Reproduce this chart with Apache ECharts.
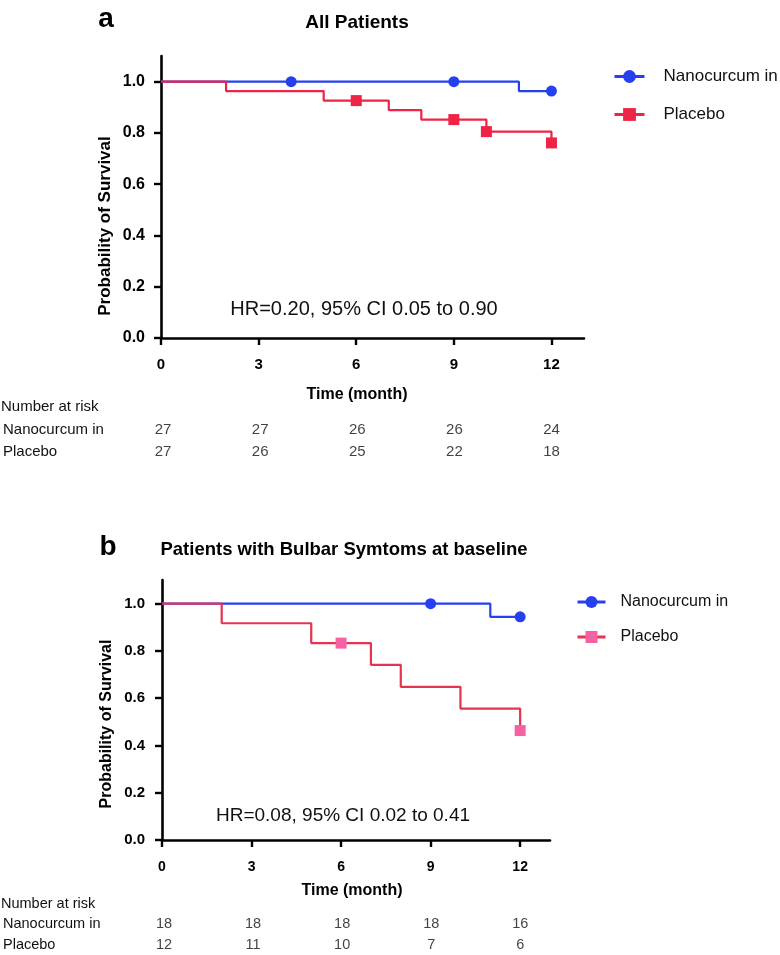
<!DOCTYPE html>
<html>
<head>
<meta charset="utf-8">
<script src="https://cdn.jsdelivr.net/npm/echarts@6/dist/echarts.min.js"></script>
<style>
html,body{margin:0;padding:0;background:#fff;}
#chart{width:780px;height:955px;}
</style>
</head>
<body>
<div id="chart"></div>
<script>
// ---- data ----
const monthTicks = [0, 3, 6, 9, 12];
const survTicks = [0, 0.2, 0.4, 0.6, 0.8, 1.0];
const groups = ['Nanocurcum in', 'Placebo'];

// Panel a: All Patients
const aNanoEventT = [0, 11];
const aNanoEventS = [1.0, 0.963];
const aNanoCensT = [4, 9, 12];
const aNanoCensS = [1.0, 1.0, 0.963];
const aPlacEventT = [0, 2, 5, 7, 8, 10, 12];
const aPlacEventS = [1.0, 0.963, 0.926, 0.889, 0.852, 0.805, 0.761];
const aPlacCensT = [6, 9, 10, 12];
const aPlacCensS = [0.926, 0.852, 0.805, 0.761];
const aRiskNano = [27, 27, 26, 26, 24];
const aRiskPlac = [27, 26, 25, 22, 18];

// Panel b: Bulbar symptoms
const bNanoEventT = [0, 11];
const bNanoEventS = [1.0, 0.944];
const bNanoCensT = [9, 12];
const bNanoCensS = [1.0, 0.944];
const bPlacEventT = [0, 2, 5, 7, 8, 10, 12];
const bPlacEventS = [1.0, 0.917, 0.833, 0.741, 0.648, 0.556, 0.463];
const bPlacCensT = [6, 12];
const bPlacCensS = [0.833, 0.463];
const bRiskNano = [18, 18, 18, 18, 16];
const bRiskPlac = [12, 11, 10, 7, 6];

// ---- helpers ----
const FONT = '"Liberation Sans", Arial, Helvetica, sans-serif';
const BLUE = '#2440ef';
const RED = '#ee2346';
const RED_B = '#e53352';
const PINK = '#f462a2';

function kmData(et, es, ct, cs) {
  const pts = [];
  et.forEach((t, i) => pts.push({t: t, s: es[i], c: 0}));
  ct.forEach((t, i) => pts.push({t: t, s: cs[i], c: 1}));
  pts.sort((a, b) => (a.t - b.t) || (a.c - b.c));
  return pts.map(p => p.c ? {value: [p.t, p.s]} : {value: [p.t, p.s], symbol: 'none'});
}
function riskData(a, b) {
  const d = [];
  monthTicks.forEach((t, i) => d.push([t, groups[0], a[i]]));
  monthTicks.forEach((t, i) => d.push([t, groups[1], b[i]]));
  return d;
}

const panels = [
  {grid: {left: 161, top: 56, width: 423, height: 282}, tick: 15, ymargin: 16, xmargin: 19},
  {grid: {left: 162, top: 580, width: 388, height: 260}, tick: 14, ymargin: 17, xmargin: 20}
];

const grids = [
  panels[0].grid, panels[1].grid,
  {left: 161, top: 419, width: 423, height: 44},
  {left: 162, top: 914, width: 388, height: 46}
];

const xAxes = [], yAxes = [];
panels.forEach((p, i) => {
  xAxes.push({
    gridIndex: i, type: 'value', min: 0, max: 13,
    axisLine: {show: true, lineStyle: {color: '#000', width: 2.6}},
    axisTick: {show: true, length: 7, lineStyle: {color: '#000', width: 2.4}, customValues: monthTicks},
    axisLabel: {customValues: monthTicks, margin: p.xmargin, color: '#000', fontWeight: 'bold', fontSize: p.tick, fontFamily: FONT},
    splitLine: {show: false}
  });
  yAxes.push({
    gridIndex: i, type: 'value', min: 0, max: 1.1,
    axisLine: {show: true, lineStyle: {color: '#000', width: 2.6}},
    axisTick: {show: true, length: 7, lineStyle: {color: '#000', width: 2.4}, customValues: survTicks},
    axisLabel: {customValues: survTicks, margin: p.ymargin, color: '#000', fontWeight: 'bold', fontSize: p.tick + 1, fontFamily: FONT,
      formatter: v => Number(v).toFixed(1)},
    splitLine: {show: false}
  });
});
[2, 3].forEach((gi, k) => {
  xAxes.push({gridIndex: gi, type: 'value', min: 0, max: 13, show: false});
  yAxes.push({
    gridIndex: gi, type: 'category', data: groups, inverse: true,
    axisLine: {show: false}, axisTick: {show: false}, splitLine: {show: false},
    axisLabel: {align: 'left', margin: grids[gi].left - 1, color: '#111', fontSize: k === 0 ? 15 : 14.5, fontFamily: FONT}
  });
});

function kmSeries(name, xi, data, color, symbol, symColor) {
  return {
    name: name, type: 'line', step: 'end', xAxisIndex: xi, yAxisIndex: xi,
    data: data, symbol: symbol, symbolSize: 11, showAllSymbol: true,
    lineStyle: {color: color, width: 2.2},
    itemStyle: {color: symColor || color},
    animation: false, silent: true
  };
}
function riskSeries(name, gi, data, fs) {
  return {
    name: name, type: 'scatter', xAxisIndex: gi, yAxisIndex: gi,
    data: data, symbolSize: 1, itemStyle: {color: 'rgba(0,0,0,0)'},
    label: {show: true, position: 'inside', formatter: p => String(p.value[2]), color: '#111', fontSize: fs, fontFamily: FONT},
    animation: false, silent: true
  };
}

const series = [
  kmSeries(groups[0], 0, kmData(aNanoEventT, aNanoEventS, aNanoCensT, aNanoCensS), BLUE, 'circle'),
  kmSeries(groups[1], 0, kmData(aPlacEventT, aPlacEventS, aPlacCensT, aPlacCensS), RED, 'rect'),
  kmSeries(groups[0], 1, kmData(bNanoEventT, bNanoEventS, bNanoCensT, bNanoCensS), BLUE, 'circle'),
  kmSeries(groups[1], 1, kmData(bPlacEventT, bPlacEventS, bPlacCensT, bPlacCensS), RED_B, 'rect', PINK),
  riskSeries('riskA', 2, riskData(aRiskNano, aRiskPlac), 15),
  riskSeries('riskB', 3, riskData(bRiskNano, bRiskPlac), 14.5)
];

function txt(text, x, y, size, bold, opts) {
  opts = opts || {};
  return {
    type: 'text', x: x, y: y, silent: true, rotation: opts.rotation || 0,
    style: {text: text, align: opts.align || 'center', verticalAlign: 'middle', fill: opts.fill || '#000',
      font: (bold ? 'bold ' : '') + size + 'px ' + FONT}
  };
}

const graphics = [
  txt('a', 106, 19, 28, true),
  txt('All Patients', 357, 23, 19, true),
  txt('Probability of Survival', 105, 226, 17, true, {rotation: Math.PI / 2}),
  txt('Time (month)', 357, 395, 16, true),
  txt('HR=0.20, 95% CI 0.05 to 0.90', 364, 309, 20, false, {fill: '#111'}),
  txt('Number at risk', 1, 407, 15, false, {align: 'left', fill: '#111'}),
  txt('b', 108, 547, 28, true),
  txt('Patients with Bulbar Symtoms at baseline', 344, 550, 18.5, true),
  txt('Probability of Survival', 107, 724, 16, true, {rotation: Math.PI / 2}),
  txt('Time (month)', 352, 891, 16, true),
  txt('HR=0.08, 95% CI 0.02 to 0.41', 343, 816, 19, false, {fill: '#111'}),
  txt('Number at risk', 1, 904, 14.5, false, {align: 'left', fill: '#111'})
];

const option = {
  backgroundColor: '#fff',
  animation: false,
  grid: grids,
  xAxis: xAxes,
  yAxis: yAxes,
  legend: [
    {
      orient: 'vertical', left: 608, top: 63, itemWidth: 30, itemHeight: 16, itemGap: 21,
      textStyle: {fontSize: 17, color: '#111', fontFamily: FONT, padding: [0, 0, 0, 14]},
      data: [
        {name: groups[0], lineStyle: {color: BLUE, width: 3}},
        {name: groups[1], lineStyle: {color: RED, width: 3}}
      ],
      selectedMode: false
    },
    {
      orient: 'vertical', left: 571, top: 589, itemWidth: 28, itemHeight: 15, itemGap: 19,
      textStyle: {fontSize: 16, color: '#111', fontFamily: FONT, padding: [0, 0, 0, 10]},
      data: [
        {name: groups[0], itemStyle: {color: BLUE}, lineStyle: {color: BLUE, width: 3}},
        {name: groups[1], itemStyle: {color: PINK}, lineStyle: {color: RED_B, width: 3}}
      ],
      selectedMode: false
    }
  ],
  series: series,
  graphic: graphics
};

const chart = echarts.init(document.getElementById('chart'), null, {renderer: 'canvas'});
chart.setOption(option);
</script>
</body>
</html>
